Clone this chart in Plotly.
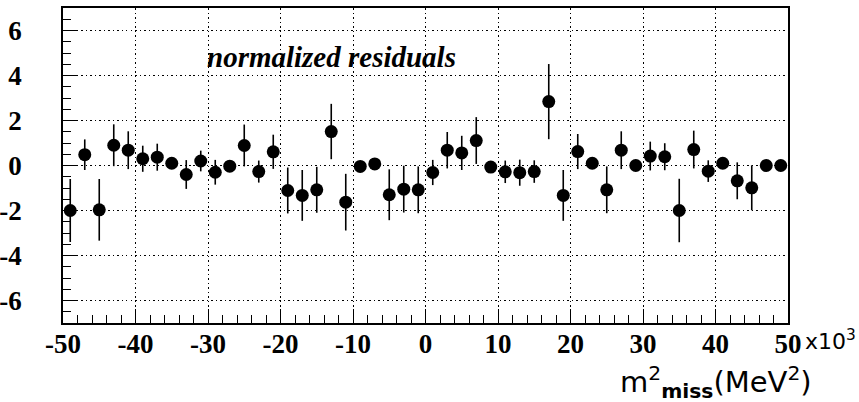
import plotly.graph_objects as go

# Data
x_vals = [-49, -47, -45, -43, -41, -39, -37, -35, -33, -31,
          -29, -27, -25, -23, -21, -19, -17, -15, -13, -11,
          -9, -7, -5, -3, -1, 1, 3, 5, 7, 9,
          11, 13, 15, 17, 19, 21, 23, 25, 27, 29,
          31, 33, 35, 37, 39, 41, 43, 45, 47, 49]
residuals = [-2.0, 0.48, -1.97, 0.9, 0.68, 0.3, 0.37, 0.1, -0.4, 0.2,
             -0.3, -0.03, 0.89, -0.27, 0.61, -1.11, -1.33, -1.08, 1.51, -1.63,
             -0.04, 0.07, -1.3, -1.05, -1.08, -0.31, 0.68, 0.56, 1.11, -0.07,
             -0.28, -0.32, -0.27, 2.84, -1.33, 0.62, 0.1, -1.08, 0.68, 0.0,
             0.42, 0.39, -2.0, 0.71, -0.25, 0.1, -0.68, -0.99, 0.0, 0.0]
errors = [1.4, 0.68, 1.37, 0.93, 0.84, 0.58, 0.6, 0.1, 0.64, 0.46,
          0.55, 0.1, 0.93, 0.49, 0.76, 1.02, 1.13, 1.02, 1.23, 1.26,
          0.1, 0.1, 1.13, 1.04, 1.04, 0.56, 0.81, 0.76, 1.04, 0.1,
          0.5, 0.58, 0.5, 1.67, 1.13, 0.78, 0.1, 1.04, 0.84, 0.1,
          0.64, 0.6, 1.41, 0.84, 0.48, 0.1, 0.82, 1.0, 0.1, 0.1]

x_tickvals = [-50, -40, -30, -20, -10, 0, 10, 20, 30, 40, 50]
x_ticktext = ["-50", "-40", "-30", "-20", "-10", "0", "10", "20", "30", "40", "50"]
y_tickvals = [-6, -4, -2, 0, 2, 4, 6]
y_ticktext = ["-6", "-4", "-2", "0", "2", "4", "6"]

fig = go.Figure()
fig.add_trace(go.Scatter(
    x=x_vals, y=residuals, mode="markers",
    marker=dict(symbol="circle", size=13, color="black"),
    error_y=dict(type="data", array=errors, visible=True, color="black",
                 thickness=1.6, width=0),
    showlegend=False,
))

tick_font = dict(family="Liberation Serif", size=27, color="black", weight="bold")

fig.update_layout(
    width=859, height=402,
    margin=dict(l=63, r=71, t=8, b=79, autoexpand=False),
    paper_bgcolor="white", plot_bgcolor="white",
    xaxis=dict(
        range=[-50, 50], tickvals=x_tickvals, ticktext=x_ticktext,
        ticks="inside", ticklen=14, tickwidth=1, tickcolor="black",
        showline=True, linecolor="black", linewidth=1.8, mirror=True,
        showgrid=True, gridcolor="black", griddash="1.5px,3px", gridwidth=1,
        zeroline=False, tickfont=tick_font, ticklabelstandoff=-4, automargin=False,
        minor=dict(dtick=2, tick0=0, ticks="inside", ticklen=8, tickcolor="black", tickwidth=1, showgrid=False),
    ),
    yaxis=dict(
        range=[-7, 7], tickvals=y_tickvals, ticktext=y_ticktext,
        ticks="inside", ticklen=14, tickwidth=1, tickcolor="black",
        showline=True, linecolor="black", linewidth=1.8, mirror=True,
        showgrid=True, gridcolor="black", griddash="1.5px,3px", gridwidth=1,
        zeroline=False, tickfont=tick_font, ticklabelstandoff=34, automargin=False,
        minor=dict(dtick=0.5, tick0=0, ticks="inside", ticklen=8, tickcolor="black", tickwidth=1, showgrid=False),
    ),
)

fig.add_annotation(
    x=-12.9, y=4.83, xref="x", yref="y", showarrow=False,
    text="normalized residuals", xanchor="center", yanchor="middle",
    font=dict(family="Liberation Serif", size=29, color="black", weight="bold", style="italic"),
)
fig.add_annotation(
    x=(803 - 63) / 725, y=(323 - 340) / 315, xref="paper", yref="paper", showarrow=False,
    text="x10<sup>3</sup>", xanchor="left", yanchor="middle",
    font=dict(family="DejaVu Sans", size=22, color="black"),
)
fig.add_annotation(
    x=(716 - 63) / 725, y=(323 - 382) / 315, xref="paper", yref="paper", showarrow=False,
    text="m<sup>2</sup><sub><b>miss</b></sub>(MeV<sup>2</sup>)", xanchor="center", yanchor="middle",
    font=dict(family="DejaVu Sans", size=29, color="black"),
)

fig.write_html("out.html")
